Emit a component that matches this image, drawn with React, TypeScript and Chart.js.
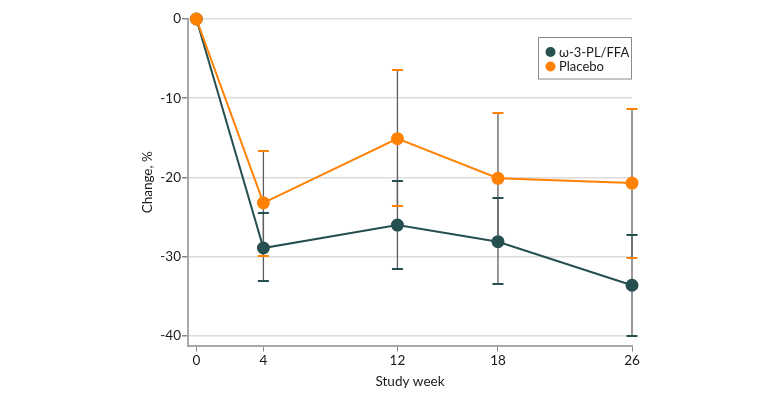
import React, { useEffect, useRef } from "react";
import { Chart, registerables } from "chart.js";

Chart.register(...registerables);

const weeks = [0, 4, 12, 18, 26];
const xTicks = [0, 4, 12, 18, 26];
const yTicks = [-40, -30, -20, -10, 0];

const omegaLabel = "ω-3-PL/FFA";
const omega = [0, -28.9, -26.0, -28.1, -33.6];
const omegaLow = [0, -33.1, -31.6, -33.5, -40.0];
const omegaHigh = [0, -24.5, -20.4, -22.6, -27.2];

const placeboLabel = "Placebo";
const placebo = [0, -23.2, -15.1, -20.1, -20.7];
const placeboLow = [0, -29.9, -23.6, -28.1, -30.1];
const placeboHigh = [0, -16.6, -6.4, -11.8, -11.4];

const TEAL = "#264f4f";
const ORANGE = "#ff8204";
const FONT = "Lato, 'Open Sans', sans-serif";
const FS = 13.5;

const errorBarPlugin = {
  id: "errorBars",
  beforeDatasetsDraw(chart: any) {
    const ctx = chart.ctx;
    const xs = chart.scales.x;
    const ys = chart.scales.y;
    ctx.save();
    chart.data.datasets.forEach((ds: any) => {
      const lows: number[] = ds.errLow;
      const highs: number[] = ds.errHigh;
      weeks.forEach((w, i) => {
        if (lows[i] === highs[i]) return;
        const px = xs.getPixelForValue(w);
        const y1 = ys.getPixelForValue(lows[i]);
        const y2 = ys.getPixelForValue(highs[i]);
        ctx.strokeStyle = "#5e5e5e";
        ctx.lineWidth = 1.3;
        ctx.beginPath();
        ctx.moveTo(px, y1);
        ctx.lineTo(px, y2);
        ctx.stroke();
      });
    });
    chart.data.datasets.forEach((ds: any) => {
      const lows: number[] = ds.errLow;
      const highs: number[] = ds.errHigh;
      weeks.forEach((w, i) => {
        if (lows[i] === highs[i]) return;
        const px = xs.getPixelForValue(w);
        ctx.strokeStyle = ds.borderColor;
        ctx.lineWidth = 2;
        [lows[i], highs[i]].forEach((v) => {
          const py = Math.round(ys.getPixelForValue(v));
          ctx.beginPath();
          ctx.moveTo(px - 5.5, py);
          ctx.lineTo(px + 5.5, py);
          ctx.stroke();
        });
      });
    });
    ctx.restore();
  },
};

const legendPlugin = {
  id: "boxLegend",
  afterDraw(chart: any) {
    const ctx = chart.ctx;
    const area = chart.chartArea;
    const right = area.right;
    const left = right - 94;
    const top = 37;
    const h = 42.5;
    ctx.save();
    ctx.fillStyle = "#ffffff";
    ctx.fillRect(left, top, right - left, h);
    ctx.strokeStyle = "#8a8a8a";
    ctx.lineWidth = 1;
    ctx.strokeRect(left + 0.5, top + 0.5, right - left - 1, h - 1);
    ctx.font = `13px ${FONT}`;
    ctx.textBaseline = "middle";
    ctx.textAlign = "left";
    const items = [...chart.data.datasets].reverse();
    items.forEach((ds: any, i: number) => {
      const cy = top + 15 + i * 14.5;
      ctx.fillStyle = ds.borderColor;
      ctx.beginPath();
      ctx.arc(left + 12.5, cy, 5, 0, Math.PI * 2);
      ctx.fill();
      ctx.fillStyle = "#1a1a1a";
      ctx.fillText(ds.label, left + 21, cy + 0.5);
    });
    ctx.restore();
  },
};

export default function App() {
  const ref = useRef<HTMLCanvasElement>(null);
  useEffect(() => {
    if (!ref.current) return;
    const mk = (label: string, data: number[], color: string, lo: number[], hi: number[]) => ({
      label,
      data: weeks.map((w, i) => ({ x: w, y: data[i] })),
      borderColor: color,
      backgroundColor: color,
      pointBackgroundColor: color,
      pointBorderColor: color,
      pointRadius: 5.5,
      borderWidth: 2,
      clip: false as any,
      errLow: lo,
      errHigh: hi,
    });
    const chart = new Chart(ref.current, {
      type: "line",
      data: {
        datasets: [
          mk(placeboLabel, placebo, ORANGE, placeboLow, placeboHigh),
          mk(omegaLabel, omega, TEAL, omegaLow, omegaHigh),
        ] as any,
      },
      options: {
        animation: false,
        responsive: false,
        maintainAspectRatio: false,
        layout: { padding: { left: 0, right: 148, top: 19, bottom: 0 } },
        plugins: { legend: { display: false }, tooltip: { enabled: false } },
        scales: {
          x: {
            type: "linear",
            min: -0.5,
            max: 26,
            afterBuildTicks: (s: any) => {
              s.ticks = xTicks.map((v) => ({ value: v }));
            },
            afterFit: (s: any) => {
              s.height = 59.5;
            },
            grid: {
              display: true,
              drawOnChartArea: false,
              drawTicks: true,
              tickLength: 6,
              tickColor: "#888",
            },
            border: { display: true, color: "#a8a8a8", width: 2 },
            ticks: {
              color: "#1a1a1a",
              font: { family: FONT, size: FS },
              padding: 1,
              maxRotation: 0,
            },
            title: {
              display: true,
              text: "Study week",
              color: "#1a1a1a",
              font: { family: FONT, size: FS },
              padding: { top: 0, bottom: 15 },
            },
          },
          y: {
            type: "linear",
            min: -41.2,
            max: 0,
            afterBuildTicks: (s: any) => {
              s.ticks = yTicks.map((v) => ({ value: v }));
            },
            afterFit: (s: any) => {
              s.width = 188;
            },
            grid: {
              color: "#dcdcdc",
              lineWidth: 1.5,
              drawTicks: true,
              tickLength: 6,
              tickColor: "#888",
            },
            border: { display: true, color: "#a8a8a8", width: 2 },
            ticks: {
              color: "#1a1a1a",
              font: { family: FONT, size: FS },
              padding: 1,
            },
            title: {
              display: true,
              text: "Change, %",
              color: "#1a1a1a",
              font: { family: FONT, size: FS },
              padding: { top: 140, bottom: 0 },
            },
          },
        },
      },
      plugins: [errorBarPlugin, legendPlugin],
    });
    return () => chart.destroy();
  }, []);
  return (
    <div style={{ position: "fixed", left: 0, top: 0, width: 780, height: 405, background: "#fff" }}>
      <canvas ref={ref} width={780} height={405} style={{ width: 780, height: 405 }} />
    </div>
  );
}
